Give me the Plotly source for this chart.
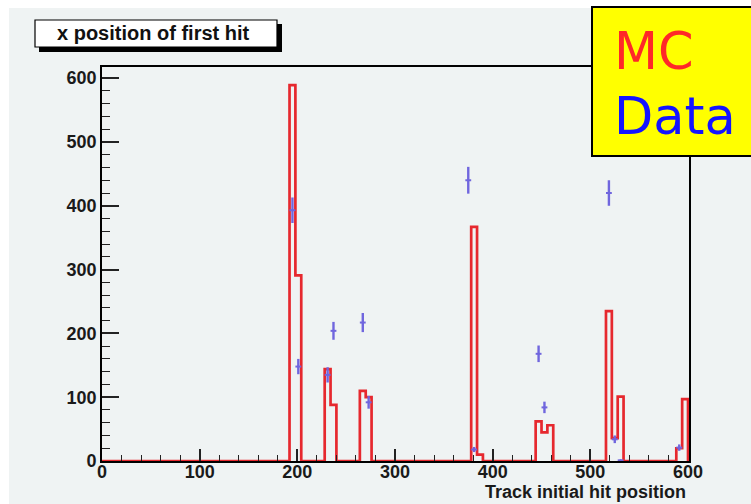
import plotly.graph_objects as go

# ---------------- data ----------------
bin_width = 6
n_bins = 100
# MC histogram: non-empty bins (lower edge) and their contents
mc_bin_low = [192, 198, 228, 234, 264, 270, 378, 384, 444, 450, 456, 516, 522, 528, 588, 594]
mc_counts = [589, 291, 144, 88, 110, 100, 367, 10, 62, 45, 56, 235, 36, 101, 20, 97]

# Data points: bin centres, values and vertical errors
data_x = [195, 201, 231, 237, 267, 273, 375, 381, 447, 453, 519, 525, 531, 591]
data_y = [393, 148, 135, 204, 217, 92, 440, 18, 168, 84, 420, 34, 1, 21]
data_err = [20, 12, 12, 14, 15, 10, 21, 4, 13, 9, 20, 6, 1, 5]

x_ticks = [0, 100, 200, 300, 400, 500, 600]
y_ticks = [0, 100, 200, 300, 400, 500, 600]

# ---------------- build histogram outline ----------------
counts = [0] * n_bins
for lo, c in zip(mc_bin_low, mc_counts):
    counts[lo // bin_width] = c
edges = [i * bin_width for i in range(n_bins + 1)]
step_x = edges + [edges[-1]]
step_y = counts + [counts[-1], 0]

# ---------------- geometry helpers (pixel -> paper) ----------------
W, H = 751, 504
L, R, T, B = 102, 689, 67, 461


def px(x):
    return (x - L) / (R - L)


def py(y):
    return (B - y) / (B - T)


fig = go.Figure()

fig.add_trace(go.Scatter(
    x=step_x, y=step_y, mode="lines", line_shape="hv",
    line=dict(color="rgb(230,40,46)", width=2.7),
    hoverinfo="skip", showlegend=False, cliponaxis=True,
))

blue = "rgb(112,102,222)"
fig.add_trace(go.Scatter(
    x=data_x, y=data_y, mode="markers",
    marker=dict(size=2, color=blue),
    error_x=dict(type="constant", value=bin_width / 2, color=blue, thickness=2, width=0),
    error_y=dict(type="data", array=data_err, color=blue, thickness=2.4, width=0),
    showlegend=False,
))

bg = "rgb(239,243,243)"
tickfont = dict(family="Liberation Sans", size=18, color="#1a1a1a", weight="bold")

fig.update_layout(
    width=W, height=H,
    margin=dict(l=L, r=W - R, t=T, b=H - B),
    paper_bgcolor="white",
    plot_bgcolor=bg,
    xaxis=dict(
        range=[0, 601], showgrid=False, zeroline=False,
        showline=True, linecolor="black", linewidth=1.6, mirror=True,
        ticks="inside", ticklen=12, tickwidth=1.5, tickcolor="#222",
        tickvals=x_ticks, ticktext=[str(v) for v in x_ticks], tickfont=tickfont,
        ticklabelstandoff=-6,
        minor=dict(ticks="inside", ticklen=6, tickwidth=1.3, tickcolor="#222", dtick=20, tick0=0),
    ),
    yaxis=dict(
        range=[0, 617.5], showgrid=False, zeroline=False,
        showline=True, linecolor="black", linewidth=1.6, mirror=True,
        ticks="inside", ticklen=17, tickwidth=1.5, tickcolor="#222",
        tickvals=y_ticks, ticktext=[str(v) for v in y_ticks], tickfont=tickfont,
        minor=dict(ticks="inside", ticklen=8, tickwidth=1.3, tickcolor="#222", dtick=20, tick0=0),
    ),
    shapes=[
        # canvas grey area
        dict(type="rect", xref="paper", yref="paper", layer="below",
             x0=px(9), x1=px(760), y0=py(8), y1=py(510),
             fillcolor=bg, line=dict(width=0)),
        # title shadow
        dict(type="rect", xref="paper", yref="paper", layer="above",
             x0=px(39), x1=px(282), y0=py(52), y1=py(24),
             fillcolor="black", line=dict(width=0)),
        # title box
        dict(type="rect", xref="paper", yref="paper", layer="above",
             x0=px(35), x1=px(277), y0=py(47), y1=py(20),
             fillcolor="white", line=dict(color="black", width=1.2)),
        # yellow legend box
        dict(type="rect", xref="paper", yref="paper", layer="above",
             x0=px(592), x1=px(760), y0=py(156), y1=py(7),
             fillcolor="rgb(255,255,0)", line=dict(color="black", width=2)),
    ],
    annotations=[
        dict(text="x position of first hit", xref="paper", yref="paper",
             x=px(153), y=py(33), xanchor="center", yanchor="middle", showarrow=False,
             font=dict(family="Liberation Sans", size=20, color="#111", weight="bold")),
        dict(text="Track initial hit position", xref="paper", yref="paper",
             x=px(687), y=py(492), xanchor="right", yanchor="middle", showarrow=False,
             borderpad=0,
             font=dict(family="Liberation Sans", size=18, color="#1a1a1a", weight="bold")),
        dict(text="MC", xref="paper", yref="paper",
             x=px(612), y=py(52), xanchor="left", yanchor="middle", showarrow=False,
             font=dict(family="DejaVu Sans", size=51, color="rgb(255,40,40)")),
        dict(text="Data", xref="paper", yref="paper",
             x=px(612), y=py(116), xanchor="left", yanchor="middle", showarrow=False,
             font=dict(family="DejaVu Sans", size=51, color="rgb(20,20,255)")),
    ],
)

fig.write_html("out.html")
